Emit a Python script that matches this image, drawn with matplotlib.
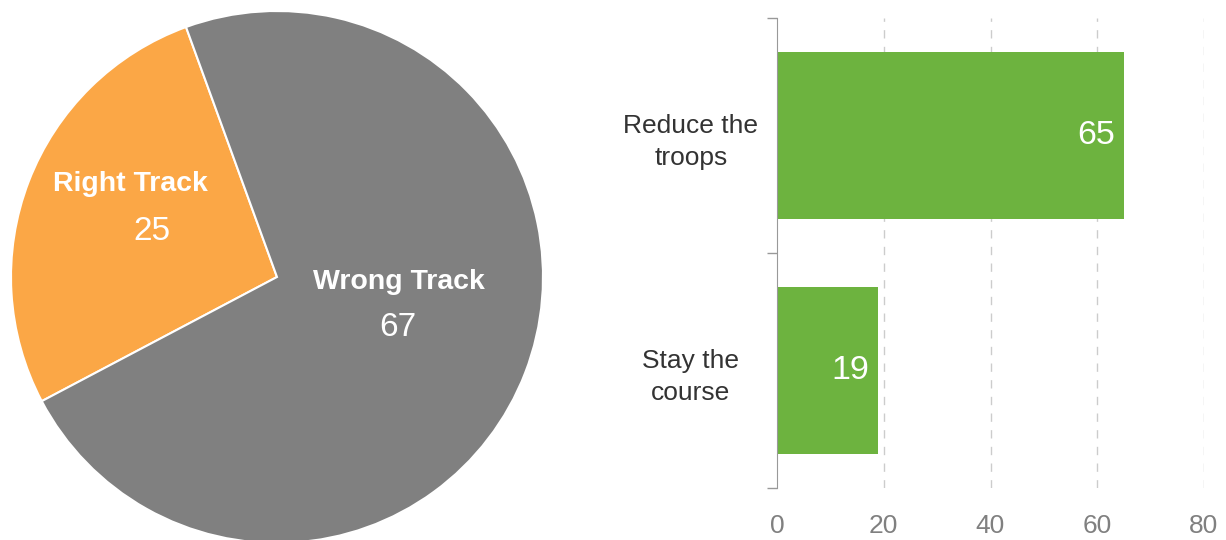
import matplotlib.pyplot as plt

plt.rcParams['font.family'] = ['Liberation Sans', 'DejaVu Sans']

# pie data
pie_labels = ["Right Track", "Wrong Track"]
pie_values = [25, 67]
pie_colors = ["#FBA746", "#808080"]

# bar data
bar_labels = ["Stay the\ncourse", "Reduce the\ntroops"]
bar_values = [19, 65]
x_ticks = [0, 20, 40, 60, 80]

fig = plt.figure(figsize=(12.26, 5.4), dpi=100)

# --- pie ---
ax1 = fig.add_axes([11 / 1226, -3 / 540, 532 / 1226, 532 / 540])
ax1.pie(pie_values, colors=pie_colors, startangle=110, counterclock=True,
        wedgeprops=dict(edgecolor="white", linewidth=1.5))
ax1.set_xlim(-1, 1)
ax1.set_ylim(-1, 1)
ax1.set_aspect("equal")

label_pos = [(-0.55, 0.35), (0.46, -0.02)]
value_pos = [(-0.47, 0.17), (0.455, -0.19)]
for lab, val, (lx, ly), (vx, vy) in zip(pie_labels, pie_values, label_pos, value_pos):
    ax1.text(lx, ly, lab, ha="center", va="center", color="white",
             fontsize=20.5, fontweight="bold")
    ax1.text(vx, vy, str(val), ha="center", va="center", color="white", fontsize=24)

# --- bars ---
ax2 = fig.add_axes([777 / 1226, 52 / 540, 427 / 1226, 470 / 540])
ypos = list(range(len(bar_values)))
ax2.barh(ypos, bar_values, height=0.71, color="#6DB33F", zorder=2)
ax2.set_xlim(0, 80)
ax2.set_ylim(-0.5, 1.5)

for y, v in zip(ypos, bar_values):
    ax2.text(v - 1.7, y, str(v), ha="right", va="center", color="white", fontsize=24.5)

ax2.set_xticks(x_ticks)
ax2.set_xticklabels([str(t) for t in x_ticks], color="#808080", fontsize=19)
ax2.tick_params(axis="x", length=0, pad=19)

ax2.set_yticks(ypos)
ax2.set_yticklabels(bar_labels, fontsize=19, color="#333333", ha="center",
                    linespacing=1.4)
ax2.tick_params(axis="y", which="major", length=0, pad=62)
ax2.set_yticks([-0.5, 0.5, 1.5], minor=True)
ax2.tick_params(axis="y", which="minor", length=7, color="#999999", width=1)

for t in x_ticks[1:]:
    ax2.axvline(t, color="#cccccc", linestyle=(0, (6, 6)), linewidth=1, zorder=1)

for s in ["top", "right", "bottom"]:
    ax2.spines[s].set_visible(False)
ax2.spines["left"].set_color("#999999")
ax2.spines["left"].set_zorder(3)

fig.savefig("out.png", dpi=100)
